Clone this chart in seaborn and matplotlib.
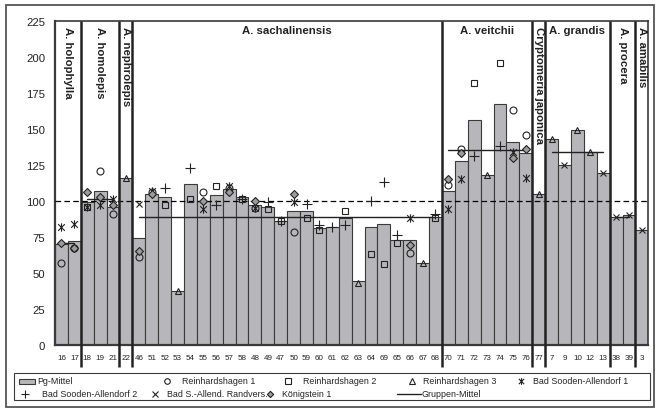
import numpy as np
import pandas as pd
import matplotlib
matplotlib.use("Agg")
import matplotlib.pyplot as plt
from matplotlib.path import Path
from matplotlib.patches import Rectangle
import seaborn as sns

# ---- data -------------------------------------------------------------
clones = ["16", "17", "18", "19", "21", "22", "46", "51", "52", "53", "54", "55",
          "56", "57", "58", "48", "49", "47", "50", "59", "60", "61", "62", "63",
          "64", "69", "65", "66", "67", "68", "70", "71", "72", "73", "74", "75",
          "76", "77", "7", "9", "10", "12", "13", "38", "39", "3"]
pg_mittel = [70, 72, 99, 107, 96, 116, 74, 105, 103, 37, 112, 100,
             104, 108, 103, 97, 96, 86, 93, 93, 81, 82, 88, 44,
             82, 84, 73, 73, 57, 89, 107, 128, 156, 118, 167, 141,
             133, 105, 143, 125, 149, 134, 119, 89, 90, 80]

group_names = ["A. holophylla", "A. homolepis", "A. nephrolepis", "A. sachalinensis",
               "A. veitchii", "Cryptomeria japonica", "A. grandis", "A. procera",
               "A. amabilis"]
group_sizes = [2, 3, 1, 24, 7, 1, 5, 2, 1]
group_means = [71, 101, 116, 89, 135, 105, 134, 89, 80]
group_vertical = [True, True, True, False, False, True, False, True, True]

rh1_clones = ["16", "17", "19", "21", "46", "51", "55", "57", "48", "50", "66",
              "70", "71", "75", "76"]
rh1_values = [57, 67, 121, 91, 61, 106, 106, 109, 95, 78, 64, 111, 136, 163, 146]

rh2_clones = ["18", "52", "54", "56", "58", "49", "47", "59", "60", "62", "64",
              "69", "65", "68", "72", "74"]
rh2_values = [96, 97, 101, 110, 101, 94, 86, 88, 80, 93, 63, 56, 71, 88, 182, 196]

rh3_clones = ["22", "53", "63", "67", "73", "77", "7", "10", "12"]
rh3_values = [116, 37, 43, 57, 118, 105, 143, 149, 134]

bsa1_clones = ["16", "17", "18", "19", "21", "51", "55", "57", "48", "50", "66",
               "70", "71", "75", "76"]
bsa1_values = [82, 84, 96, 97, 101, 107, 94, 110, 95, 99, 88, 94, 115, 134, 116]

bsa2_clones = ["52", "54", "56", "58", "49", "47", "59", "60", "61", "62", "64",
               "69", "65", "68", "72", "74"]
bsa2_values = [109, 123, 97, 101, 99, 86, 98, 83, 82, 83, 100, 113, 76, 91, 131, 138]

rand_clones = ["46", "9", "13", "38", "39", "3"]
rand_values = [98, 125, 119, 89, 90, 80]

koe_clones = ["16", "17", "18", "19", "21", "46", "51", "55", "57", "48", "50",
              "66", "70", "71", "75", "76"]
koe_values = [71, 67, 106, 103, 97, 65, 105, 100, 106, 100, 105, 69, 115, 133, 130, 136]

y_ticks = [0, 25, 50, 75, 100, 125, 150, 175, 200, 225]
reference_level = 100

# ---- style ------------------------------------------------------------
sns.set_style("white")
plt.rcParams["font.family"] = ["Liberation Sans", "DejaVu Sans"]
BAR = "#b7b7bb"
EDGE = "#3a3a3a"
INK = "#222222"

star = Path([(0, -1), (0, 1), (-0.8, -0.8), (0.8, 0.8), (-0.8, 0.8), (0.8, -0.8)],
            [Path.MOVETO, Path.LINETO] * 3)

series = [
    ("Reinhardshagen 1", rh1_clones, rh1_values, dict(marker="o", ms=5, mfc="none")),
    ("Reinhardshagen 2", rh2_clones, rh2_values, dict(marker="s", ms=4.6, mfc="none")),
    ("Reinhardshagen 3", rh3_clones, rh3_values, dict(marker="^", ms=5, mfc="none")),
    ("Bad Sooden-Allendorf 1", bsa1_clones, bsa1_values, dict(marker=star, ms=6)),
    ("Bad Sooden-Allendorf 2", bsa2_clones, bsa2_values, dict(marker="+", ms=6.5)),
    ("Bad S.-Allend. Randvers.", rand_clones, rand_values, dict(marker="x", ms=5)),
    ("Königstein 1", koe_clones, koe_values, dict(marker="D", ms=4, mfc="#9c9c9c")),
]

W, H = 660, 414
fig = plt.figure(figsize=(W / 100, H / 100), dpi=100)
x0, x1, ytop, ybot = 55, 648.3, 22, 345.7
ax = fig.add_axes([x0 / W, 1 - ybot / H, (x1 - x0) / W, (ybot - ytop) / H])

# bars
df = pd.DataFrame({"clone": clones, "value": pg_mittel})
sns.barplot(data=df, x="clone", y="value", order=clones, width=1.0, color=BAR,
            saturation=1, edgecolor=EDGE, linewidth=0.8, ax=ax, zorder=2)

pos = {c: i for i, c in enumerate(clones)}

# reference line
ax.axhline(reference_level, color="black", lw=0.9, ls=(0, (4.5, 2.6)), zorder=3)

# group means
bounds = np.cumsum([0] + group_sizes)
for g, m in enumerate(group_means):
    a, b = bounds[g], bounds[g + 1] - 1
    if b > a:
        ax.plot([a, b], [m, m], color=INK, lw=1.0, zorder=4)

# site markers
for name, cl, vals, st in series:
    xs = [pos[c] for c in cl]
    ax.plot(xs, vals, ls="none", mec=INK, mew=0.8, zorder=5,
            **{"mfc": INK, **st})

# group separators reaching into the label band
xt = ax.get_xaxis_transform()
ax.vlines(bounds[1:-1] - 0.5, -0.068, 1, transform=xt, color=INK, lw=1.8,
          clip_on=False, zorder=6)

# group labels
for g, name in enumerate(group_names):
    cx = (bounds[g] + bounds[g + 1] - 1) / 2
    if group_vertical[g]:
        ax.text(cx, 0.985, name, transform=xt, rotation=270, ha="center", va="top",
                fontsize=8.2, fontweight="bold", color=INK, zorder=7)
    else:
        ax.text(cx, 0.972, name, transform=xt, ha="center", va="center",
                fontsize=8.2, fontweight="bold", color=INK, zorder=7)

ax.set_xlim(-0.5, len(clones) - 0.5)
ax.set_ylim(0, 225)
ax.set_yticks(y_ticks)
ax.set_yticklabels([str(t) for t in y_ticks], fontsize=8.2, color=INK)
ax.set_xticks(range(len(clones)))
ax.set_xticklabels(clones, fontsize=5.8, color=INK)
ax.tick_params(axis="y", length=4, width=1, color=EDGE, pad=3)
ax.tick_params(axis="x", length=0, pad=7)
ax.set_xlabel("")
ax.set_ylabel("")
for s in ax.spines.values():
    s.set_visible(True)
    s.set_color(EDGE)
    s.set_linewidth(1.2)
ax.spines["left"].set_linewidth(1.6)
ax.spines["bottom"].set_linewidth(1.6)

# ---- legend and outer frame ------------------------------------------
lax = fig.add_axes([0, 0, 1, 1], zorder=10)
lax.set_xlim(0, W)
lax.set_ylim(H, 0)
lax.axis("off")
lax.patch.set_alpha(0)
lax.add_patch(Rectangle((6, 6), 648, 402, fill=False, ec="#555555", lw=1.3))
lax.add_patch(Rectangle((14, 374), 636, 27, fill=False, ec=EDGE, lw=0.8))

r1, r2 = 382, 395
fs = 6.4
lax.add_patch(Rectangle((19, r1 - 2.5), 16, 5, fc=BAR, ec=EDGE, lw=0.8))
lax.text(37, r1, "Pg-Mittel", fontsize=fs, va="center", color=INK)

slots = [(167, r1, 182), (288, r1, 303), (412, r1, 423), (521, r1, 533),
         (25, r2, 42), (155, r2, 167), (270, r2, 282)]
for (mx, my, tx), (name, _, _, st) in zip(slots, series):
    small = {**st, "ms": st["ms"] * 0.8}
    lax.plot([mx], [my], ls="none", mec=INK, mew=0.8, **{"mfc": INK, **small})
    lax.text(tx, my, name, fontsize=fs, va="center", color=INK)
lax.plot([397, 421], [r2, r2], color=INK, lw=1.0)
lax.text(422, r2, "Gruppen-Mittel", fontsize=fs, va="center", color=INK)

fig.savefig("out.png", dpi=100)
